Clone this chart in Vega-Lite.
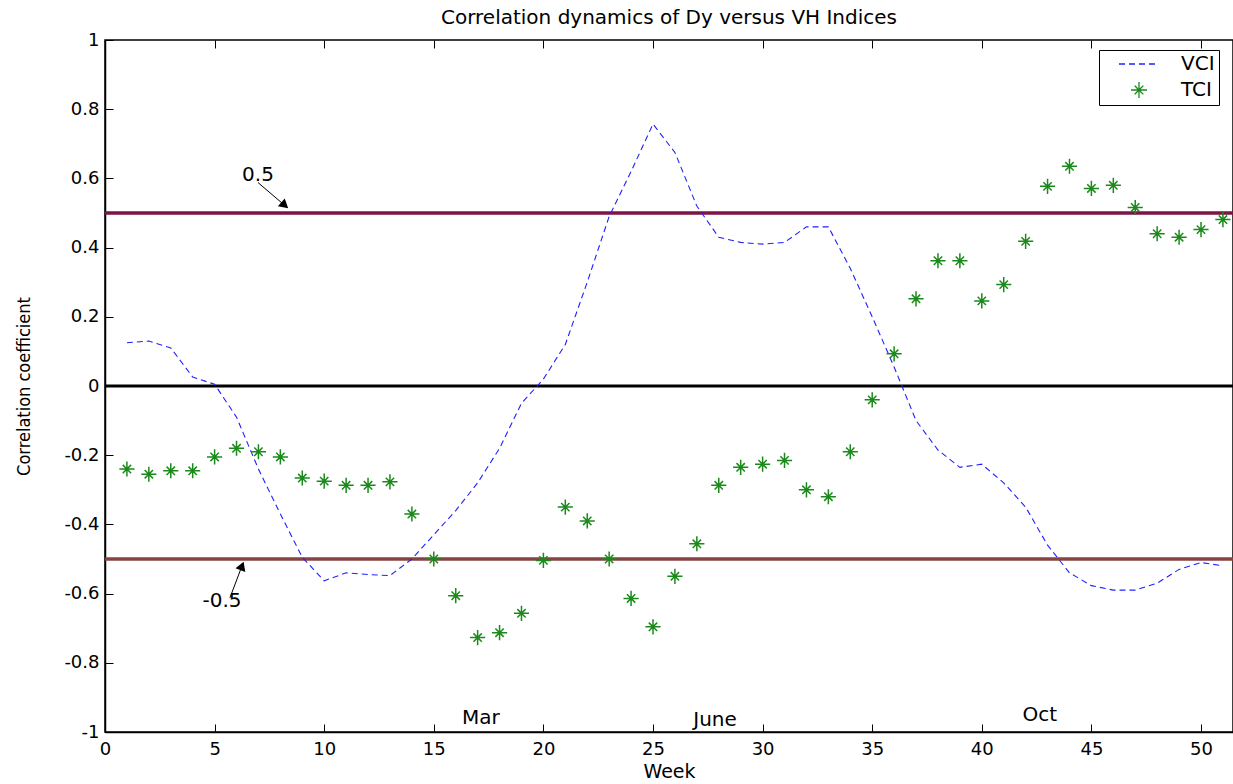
{
  "$schema": "https://vega.github.io/schema/vega-lite/v6.json",
  "width": 1128,
  "height": 692,
  "autosize": {"type": "none"},
  "padding": {"left": 105, "top": 40, "right": 0, "bottom": 52},
  "background": "white",
  "config": {
    "font": "DejaVu Sans",
    "view": {"stroke": "black", "strokeWidth": 1.5},
    "axis": {"grid": false, "domainColor": "black", "tickColor": "black", "labelColor": "black", "titleColor": "black", "labelFont": "DejaVu Sans", "titleFont": "DejaVu Sans", "labelFontWeight": "normal", "titleFontWeight": "normal"}
  },
  "title": {"text": "Correlation dynamics of Dy versus VH Indices", "fontSize": 20, "fontWeight": "normal", "font": "DejaVu Sans", "offset": 3, "anchor": "middle", "color": "black"},
  "resolve": {"axis": {"x": "independent"}},
  "datasets": {
    "series": [
      {"week": 1, "series": "VCI", "value": 0.125},
      {"week": 2, "series": "VCI", "value": 0.13},
      {"week": 3, "series": "VCI", "value": 0.11},
      {"week": 4, "series": "VCI", "value": 0.026},
      {"week": 5, "series": "VCI", "value": 0.005},
      {"week": 6, "series": "VCI", "value": -0.09},
      {"week": 7, "series": "VCI", "value": -0.24},
      {"week": 8, "series": "VCI", "value": -0.37},
      {"week": 9, "series": "VCI", "value": -0.495},
      {"week": 10, "series": "VCI", "value": -0.563},
      {"week": 11, "series": "VCI", "value": -0.54},
      {"week": 12, "series": "VCI", "value": -0.545},
      {"week": 13, "series": "VCI", "value": -0.548},
      {"week": 14, "series": "VCI", "value": -0.5},
      {"week": 15, "series": "VCI", "value": -0.43},
      {"week": 16, "series": "VCI", "value": -0.36},
      {"week": 17, "series": "VCI", "value": -0.28},
      {"week": 18, "series": "VCI", "value": -0.18},
      {"week": 19, "series": "VCI", "value": -0.05},
      {"week": 20, "series": "VCI", "value": 0.02},
      {"week": 21, "series": "VCI", "value": 0.12},
      {"week": 22, "series": "VCI", "value": 0.3},
      {"week": 23, "series": "VCI", "value": 0.49},
      {"week": 24, "series": "VCI", "value": 0.62},
      {"week": 25, "series": "VCI", "value": 0.757},
      {"week": 26, "series": "VCI", "value": 0.675},
      {"week": 27, "series": "VCI", "value": 0.52},
      {"week": 28, "series": "VCI", "value": 0.43},
      {"week": 29, "series": "VCI", "value": 0.415},
      {"week": 30, "series": "VCI", "value": 0.41},
      {"week": 31, "series": "VCI", "value": 0.415},
      {"week": 32, "series": "VCI", "value": 0.46},
      {"week": 33, "series": "VCI", "value": 0.46},
      {"week": 34, "series": "VCI", "value": 0.34},
      {"week": 35, "series": "VCI", "value": 0.2},
      {"week": 36, "series": "VCI", "value": 0.055},
      {"week": 37, "series": "VCI", "value": -0.1},
      {"week": 38, "series": "VCI", "value": -0.185},
      {"week": 39, "series": "VCI", "value": -0.235},
      {"week": 40, "series": "VCI", "value": -0.226},
      {"week": 41, "series": "VCI", "value": -0.28},
      {"week": 42, "series": "VCI", "value": -0.35},
      {"week": 43, "series": "VCI", "value": -0.46},
      {"week": 44, "series": "VCI", "value": -0.54},
      {"week": 45, "series": "VCI", "value": -0.577},
      {"week": 46, "series": "VCI", "value": -0.59},
      {"week": 47, "series": "VCI", "value": -0.59},
      {"week": 48, "series": "VCI", "value": -0.57},
      {"week": 49, "series": "VCI", "value": -0.53},
      {"week": 50, "series": "VCI", "value": -0.51},
      {"week": 51, "series": "VCI", "value": -0.52},
      {"week": 1, "series": "TCI", "value": -0.24},
      {"week": 2, "series": "TCI", "value": -0.255},
      {"week": 3, "series": "TCI", "value": -0.245},
      {"week": 4, "series": "TCI", "value": -0.245},
      {"week": 5, "series": "TCI", "value": -0.205},
      {"week": 6, "series": "TCI", "value": -0.18},
      {"week": 7, "series": "TCI", "value": -0.19},
      {"week": 8, "series": "TCI", "value": -0.205},
      {"week": 9, "series": "TCI", "value": -0.266},
      {"week": 10, "series": "TCI", "value": -0.275},
      {"week": 11, "series": "TCI", "value": -0.287},
      {"week": 12, "series": "TCI", "value": -0.287},
      {"week": 13, "series": "TCI", "value": -0.277},
      {"week": 14, "series": "TCI", "value": -0.37},
      {"week": 15, "series": "TCI", "value": -0.5},
      {"week": 16, "series": "TCI", "value": -0.606},
      {"week": 17, "series": "TCI", "value": -0.727},
      {"week": 18, "series": "TCI", "value": -0.713},
      {"week": 19, "series": "TCI", "value": -0.657},
      {"week": 20, "series": "TCI", "value": -0.504},
      {"week": 21, "series": "TCI", "value": -0.35},
      {"week": 22, "series": "TCI", "value": -0.39},
      {"week": 23, "series": "TCI", "value": -0.5},
      {"week": 24, "series": "TCI", "value": -0.614},
      {"week": 25, "series": "TCI", "value": -0.696},
      {"week": 26, "series": "TCI", "value": -0.55},
      {"week": 27, "series": "TCI", "value": -0.456},
      {"week": 28, "series": "TCI", "value": -0.287},
      {"week": 29, "series": "TCI", "value": -0.235},
      {"week": 30, "series": "TCI", "value": -0.226},
      {"week": 31, "series": "TCI", "value": -0.215},
      {"week": 32, "series": "TCI", "value": -0.3},
      {"week": 33, "series": "TCI", "value": -0.32},
      {"week": 34, "series": "TCI", "value": -0.19},
      {"week": 35, "series": "TCI", "value": -0.04},
      {"week": 36, "series": "TCI", "value": 0.093},
      {"week": 37, "series": "TCI", "value": 0.252},
      {"week": 38, "series": "TCI", "value": 0.362},
      {"week": 39, "series": "TCI", "value": 0.362},
      {"week": 40, "series": "TCI", "value": 0.246},
      {"week": 41, "series": "TCI", "value": 0.293},
      {"week": 42, "series": "TCI", "value": 0.418},
      {"week": 43, "series": "TCI", "value": 0.577},
      {"week": 44, "series": "TCI", "value": 0.635},
      {"week": 45, "series": "TCI", "value": 0.571},
      {"week": 46, "series": "TCI", "value": 0.58},
      {"week": 47, "series": "TCI", "value": 0.516},
      {"week": 48, "series": "TCI", "value": 0.44},
      {"week": 49, "series": "TCI", "value": 0.43},
      {"week": 50, "series": "TCI", "value": 0.452},
      {"week": 51, "series": "TCI", "value": 0.481}
    ],
    "labels": [
      {"week": 6.98, "value": 0.609, "label": "0.5"},
      {"week": 5.34, "value": -0.62, "label": "-0.5"},
      {"week": 17.15, "value": -0.959, "label": "Mar"},
      {"week": 27.83, "value": -0.965, "label": "June"},
      {"week": 42.65, "value": -0.951, "label": "Oct"}
    ],
    "arrows": [
      {"week": 6.98, "value": 0.588, "week2": 8.2, "value2": 0.522},
      {"week": 5.7, "value": -0.612, "week2": 6.25, "value2": -0.52}
    ]
  },
  "layer": [
    {
      "data": {"values": [{"value": 0.5}]},
      "mark": {"type": "rule", "color": "#7d1445", "strokeWidth": 3.5},
      "encoding": {"y": {"field": "value", "type": "quantitative", "scale": {"domain": [-1, 1], "nice": false, "zero": false}, "axis": {"title": "Correlation coefficient", "titleFont": "DejaVu Sans Condensed", "titleFontSize": 18, "titlePadding": 30, "labelFontSize": 18, "tickSize": -8, "labelPadding": 14, "values": [-1, -0.8, -0.6, -0.4, -0.2, 0, 0.2, 0.4, 0.6, 0.8, 1], "labelExpr": "datum.value == 0 ? '0' : datum.value == 1 ? '1' : datum.value == -1 ? '-1' : (datum.value < 0 ? '-' : '') + format(abs(datum.value), '.1f')", "domainWidth": 1.5, "labelFlush": false}}}
    },
    {
      "data": {"values": [{"value": -0.5}]},
      "mark": {"type": "rule", "color": "#874343", "strokeWidth": 3.5},
      "encoding": {"y": {"field": "value", "type": "quantitative"}}
    },
    {
      "data": {"values": [{"value": 0}]},
      "mark": {"type": "rule", "color": "black", "strokeWidth": 3},
      "encoding": {"y": {"field": "value", "type": "quantitative"}}
    },
    {
      "data": {"name": "series"},
      "transform": [{"filter": "datum.series == 'VCI'"}],
      "mark": {"type": "line", "strokeWidth": 1.1},
      "encoding": {
        "x": {"field": "week", "type": "quantitative", "scale": {"domain": [0, 51.46], "nice": false, "zero": false}, "axis": {"title": "Week", "titleFontSize": 19, "titlePadding": 4, "labelFontSize": 18, "tickSize": -8, "labelPadding": 16, "values": [0, 5, 10, 15, 20, 25, 30, 35, 40, 45, 50], "domainWidth": 1.5, "labelFlush": false}},
        "y": {"field": "value", "type": "quantitative"},
        "color": {"field": "series", "type": "nominal", "scale": {"domain": ["VCI", "TCI"], "range": ["#2020ff", "#1a8a1a"]}, "legend": {"title": null, "orient": "none", "legendX": 994, "legendY": 10, "strokeColor": "black", "fillColor": "white", "padding": 4, "labelFontSize": 20, "labelFont": "DejaVu Sans", "labelColor": "black", "symbolSize": 256, "symbolStrokeWidth": 1.3, "symbolOffset": 26, "labelOffset": 32, "rowPadding": 5}},
        "strokeDash": {"field": "series", "type": "nominal", "scale": {"domain": ["VCI", "TCI"], "range": [[6, 4], [1, 0]]}, "legend": {"title": null}}
      }
    },
    {
      "data": {"name": "series"},
      "transform": [{"filter": "datum.series == 'TCI'"}],
      "mark": {"type": "point", "filled": false, "strokeWidth": 1.5, "size": 230, "opacity": 1},
      "encoding": {
        "x": {"field": "week", "type": "quantitative", "axis": null},
        "y": {"field": "value", "type": "quantitative"},
        "color": {"field": "series", "type": "nominal"},
        "shape": {"field": "series", "type": "nominal", "scale": {"domain": ["VCI", "TCI"], "range": ["M-2.5,0H2.5", "M-1,0H1M0,-1V1M-0.55,-0.55L0.55,0.55M-0.55,0.55L0.55,-0.55"]}, "legend": {"title": null}}
      }
    },
    {
      "data": {"values": [{"week": 0}]},
      "mark": {"type": "rule", "opacity": 0},
      "encoding": {"x": {"field": "week", "type": "quantitative", "axis": {"orient": "top", "labels": false, "title": null, "tickSize": -8, "domain": false, "values": [0, 5, 10, 15, 20, 25, 30, 35, 40, 45, 50]}}}
    },
    {
      "data": {"name": "arrows"},
      "mark": {"type": "rule", "color": "black", "strokeWidth": 1},
      "encoding": {
        "x": {"field": "week", "type": "quantitative", "axis": null},
        "y": {"field": "value", "type": "quantitative"},
        "x2": {"field": "week2"},
        "y2": {"field": "value2"}
      }
    },
    {
      "data": {"values": [{"week": 8.2, "value": 0.522}]},
      "mark": {"type": "point", "shape": "triangle-up", "filled": true, "color": "black", "size": 110, "angle": 131, "opacity": 1},
      "encoding": {"x": {"field": "week", "type": "quantitative", "axis": null}, "y": {"field": "value", "type": "quantitative"}}
    },
    {
      "data": {"values": [{"week": 6.25, "value": -0.52}]},
      "mark": {"type": "point", "shape": "triangle-up", "filled": true, "color": "black", "size": 110, "angle": 21, "opacity": 1},
      "encoding": {"x": {"field": "week", "type": "quantitative", "axis": null}, "y": {"field": "value", "type": "quantitative"}}
    },
    {
      "data": {"name": "labels"},
      "mark": {"type": "text", "fontSize": 20, "font": "DejaVu Sans", "color": "black", "align": "center", "baseline": "middle"},
      "encoding": {
        "x": {"field": "week", "type": "quantitative", "axis": null},
        "y": {"field": "value", "type": "quantitative"},
        "text": {"field": "label"}
      }
    }
  ]
}
